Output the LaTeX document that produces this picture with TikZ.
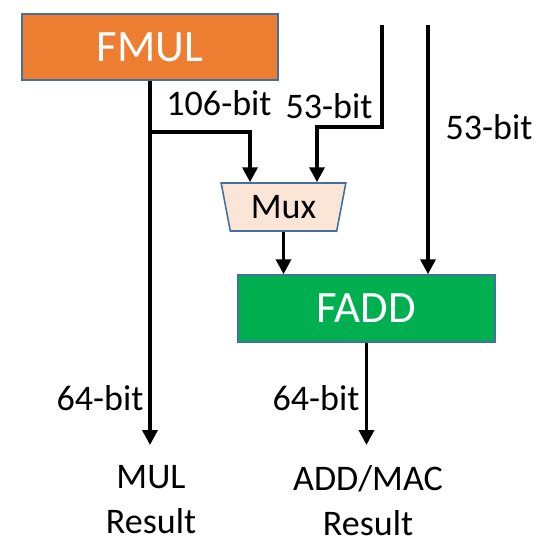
\documentclass[tikz,border=0pt]{standalone}
\usepackage{fontspec}
\setmainfont{Carlito}
\usetikzlibrary{arrows.meta,shapes.geometric}
\definecolor{fmulorange}{HTML}{ED7D31}
\definecolor{faddgreen}{HTML}{00B050}
\definecolor{boxedge}{HTML}{41719C}
\definecolor{muxfill}{HTML}{FBE5D6}

\tikzset{
  unit/.style={draw=boxedge,line width=0.9pt,text=white,font=\fontsize{25.5}{30}\selectfont,inner sep=0pt},
  muxbox/.style={trapezium,trapezium stretches=true,shape border rotate=180,trapezium angle=76.5,
    draw=boxedge,line width=0.9pt,fill=muxfill,inner sep=0pt,minimum width=2.5cm,minimum height=0.96cm,
    font=\fontsize{20.5}{25}\selectfont},
  bus/.style={line width=2pt,-{Triangle[length=8.5pt,width=8.5pt]}},
  lbl/.style={font=\fontsize{20.5}{25}\selectfont,inner sep=0pt},
  res/.style={font=\fontsize{20.5}{25.5}\selectfont,inner sep=0pt,align=center,anchor=north},
}

\begin{document}
\begin{tikzpicture}[x=0.02cm,y=-0.02cm]
\useasboundingbox (0,0) rectangle (537,539);
% units
\node[unit,fill=fmulorange,minimum width=5.12cm,minimum height=1.32cm] (fmul) at (150,47) {FMUL};
\node[unit,fill=faddgreen,minimum width=5.14cm,minimum height=1.34cm] (fadd) at (366.5,308.5) {FADD};
\node[muxbox] (mux) at (283.5,207) {Mux};
% results
\node[res] (mulres) at (151,465) {MUL\\Result};
\node[res] (addres) at (368,465) {ADD/MAC\\Result};
% free inputs
\coordinate (in1) at (382,25);
\coordinate (in2) at (428,25);
\coordinate (br) at (150,132);
\coordinate (sel) at (382,127);
% buses
\draw[bus,shorten >=0.4cm] (fmul.south) -- (fmul.south |- mulres.north);
\draw[bus] (br) -| ([xshift=-0.67cm]mux.north);
\draw[bus] (in1) -- (sel) -| ([xshift=0.67cm]mux.north);
\draw[bus] (in2) -- (in2 |- fadd.north);
\draw[bus] (mux.south) -- (mux.south |- fadd.north);
\draw[bus,shorten >=0.4cm] (fadd.south) -- (fadd.south |- addres.north);
% widths
\node[lbl] (w106) at (219,103) {106-bit};
\node[lbl] (w53a) at (329,106) {53-bit};
\node[lbl] (w53b) at (489,127) {53-bit};
\node[lbl] (w64a) at (100,398) {64-bit};
\node[lbl] (w64b) at (316,398) {64-bit};
\end{tikzpicture}
\end{document}
